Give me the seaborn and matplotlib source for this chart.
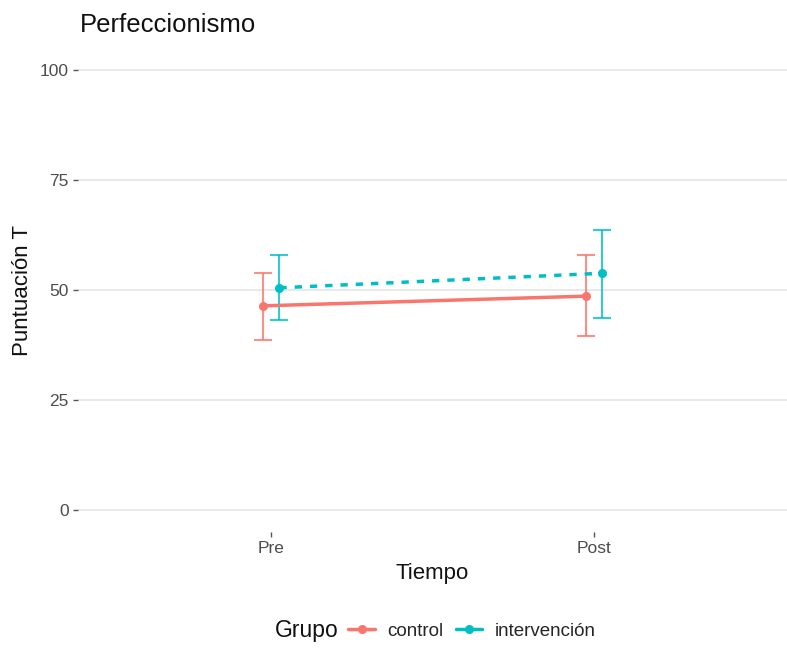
import matplotlib
matplotlib.use('Agg')
import matplotlib.pyplot as plt
import numpy as np
import pandas as pd
import seaborn as sns

# Datos
tiempos = ['Pre', 'Post']
grupos = ['control', 'intervención']
media_control = [46.4, 48.6]
inf_control = [38.7, 39.6]
sup_control = [53.9, 58.0]
media_interv = [50.5, 53.8]
inf_interv = [43.2, 43.6]
sup_interv = [58.0, 63.6]

colores = {'control': '#F8766D', 'intervención': '#00BFC4'}
desplaz = {'control': -0.025, 'intervención': 0.025}

filas = []
for g, med, lo, hi in [('control', media_control, inf_control, sup_control),
                       ('intervención', media_interv, inf_interv, sup_interv)]:
    for i, t in enumerate(tiempos):
        filas.append({'Tiempo': t, 'Grupo': g, 'media': med[i], 'lo': lo[i], 'hi': hi[i],
                      'xpos': i + desplaz[g]})
df = pd.DataFrame(filas)

sns.set_theme(style='white')
plt.rcParams['font.family'] = ['Liberation Sans', 'DejaVu Sans']

fig = plt.figure(figsize=(7.87, 6.49), dpi=100)
ax = fig.add_axes([78 / 787, 117 / 649, 709 / 787, 484 / 649])

# Barras de error
for g in grupos:
    sub = df[df['Grupo'] == g]
    ax.errorbar(sub['xpos'], sub['media'],
                yerr=[sub['media'] - sub['lo'], sub['hi'] - sub['media']],
                fmt='none', ecolor=colores[g], elinewidth=1.5, capsize=6.5,
                capthick=1.5, alpha=0.8, zorder=2)

sns.lineplot(data=df, x='xpos', y='media', hue='Grupo', style='Grupo',
             palette=colores, markers={'control': 'o', 'intervención': 'o'},
             dashes={'control': '', 'intervención': (2.1, 2.3)},
             linewidth=2.5, markersize=6.5, markeredgewidth=0, ax=ax,
             legend=False, zorder=3)

ax.set_xlim(-0.6, 1.6)
ax.set_ylim(-5, 105)
ax.set_xticks([0, 1])
ax.set_xticklabels(tiempos)
ax.set_yticks([0, 25, 50, 75, 100])
ax.grid(axis='y', color='#E3E3E3', linewidth=1.1)
ax.grid(axis='x', visible=False)
ax.set_axisbelow(True)
for s in ax.spines.values():
    s.set_visible(False)
ax.tick_params(axis='both', length=3.5, width=1.0, color='#555555',
               labelcolor='#4D4D4D', labelsize=12.5, pad=3, left=True, bottom=True)

ax.set_xlabel('Tiempo', fontsize=16, color='#111111', labelpad=5)
ax.set_ylabel('Puntuación T', fontsize=16, color='#111111')
ax.yaxis.set_label_coords(-45 / 709, 0.5)
fig.text(80 / 787, 1 - 25 / 649, 'Perfeccionismo', fontsize=18.5, color='#111111',
         va='center', ha='left')

# Leyenda inferior
handles = [plt.Line2D([], [], color=colores[g], marker='o', markersize=5.5,
                      linewidth=2.5) for g in grupos]
fig.legend(handles, grupos, loc='center', bbox_to_anchor=(472 / 787, 1 - 631 / 649),
           ncol=2, frameon=False, fontsize=13.5, handlelength=1.4,
           columnspacing=0.7, handletextpad=0.65)
fig.text(275 / 787, 1 - 631 / 649, 'Grupo', fontsize=16.5, color='#111111',
         va='center', ha='left')

fig.savefig('out.png', dpi=100, facecolor='white')
